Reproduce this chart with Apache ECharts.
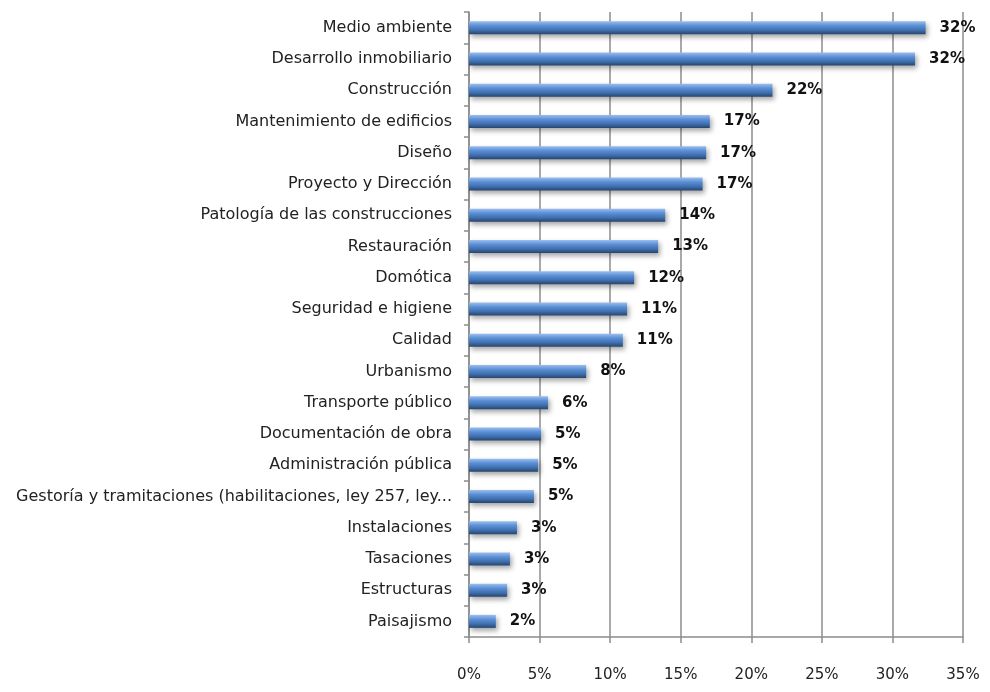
<!DOCTYPE html>
<html>
<head>
<meta charset="utf-8">
<script src="https://cdn.jsdelivr.net/npm/echarts@6/dist/echarts.min.js"></script>
<style>
  html, body { margin: 0; padding: 0; background: #fff; }
  #chart { width: 990px; height: 692px; }
</style>
</head>
<body>
<div id="chart"></div>
<script>
// categories from top to bottom
const categories = [
  'Medio ambiente',
  'Desarrollo inmobiliario',
  'Construcción',
  'Mantenimiento de edificios',
  'Diseño',
  'Proyecto y Dirección',
  'Patología de las construcciones',
  'Restauración',
  'Domótica',
  'Seguridad e higiene',
  'Calidad',
  'Urbanismo',
  'Transporte público',
  'Documentación de obra',
  'Administración pública',
  'Gestoría y tramitaciones (habilitaciones, ley 257, ley...',
  'Instalaciones',
  'Tasaciones',
  'Estructuras',
  'Paisajismo'
]
const percents = [32.35, 31.6, 21.5, 17.06, 16.8, 16.55, 13.9, 13.4, 11.7, 11.2, 10.9, 8.3, 5.6, 5.1, 4.9, 4.6, 3.4, 2.9, 2.7, 1.9]
const xTicks = [0, 5, 10, 15, 20, 25, 30, 35]

const chart = echarts.init(document.getElementById('chart'))
const font = 'DejaVu Sans, sans-serif'
const option = {
  animation: false,
  grid: { left: 469, right: 27, top: 12, bottom: 55, containLabel: false },
  xAxis: {
    type: 'value',
    min: xTicks[0],
    max: xTicks[xTicks.length - 1],
    interval: 5,
    axisLine: { show: true, lineStyle: { color: '#8c8c8c', width: 1.5 } },
    axisTick: { show: true, length: 6, lineStyle: { color: '#8c8c8c', width: 1.5 } },
    splitLine: { show: true, lineStyle: { color: '#8c8c8c', width: 1.5 } },
    axisLabel: {
      formatter: '{value}%',
      color: '#222',
      fontFamily: font,
      fontSize: 15,
      margin: 31
    }
  },
  yAxis: {
    type: 'category',
    inverse: true,
    data: categories,
    axisLine: { show: true, lineStyle: { color: '#8c8c8c', width: 1.5 } },
    axisTick: { show: true, length: 5, lineStyle: { color: '#8c8c8c', width: 1.5 } },
    axisLabel: {
      color: '#222',
      fontFamily: font,
      fontSize: 16,
      margin: 17
    }
  },
  series: [
    {
      type: 'bar',
      data: percents,
      barWidth: 13,
      itemStyle: {
        color: {
          type: 'linear', x: 0, y: 0, x2: 0, y2: 1,
          colorStops: [
            { offset: 0, color: '#9cc0ee' },
            { offset: 0.35, color: '#5a8fd6' },
            { offset: 0.7, color: '#3f6fae' },
            { offset: 1, color: '#27466f' }
          ]
        },
        shadowBlur: 5,
        shadowOffsetX: 2,
        shadowOffsetY: 3,
        shadowColor: 'rgba(0,0,0,0.35)'
      },
      label: {
        show: true,
        position: 'right',
        distance: 14,
        formatter: p => Math.round(p.value) + '%',
        color: '#111',
        fontWeight: 'bold',
        fontFamily: font,
        fontSize: 15
      }
    }
  ]
}
chart.setOption(option)
</script>
</body>
</html>
